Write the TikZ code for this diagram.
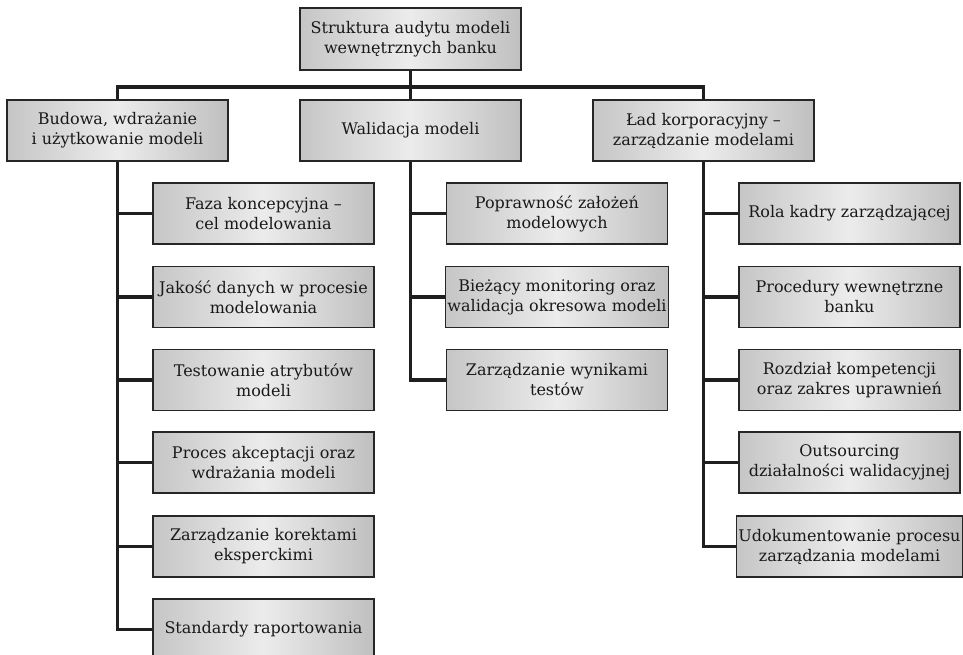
\documentclass[tikz,border=0pt]{standalone}
\usepackage{fontspec}
\setmainfont{DejaVu Serif}
\begin{document}
\begin{tikzpicture}[x=1pt,y=-1pt,
  box/.style={draw=black!85, line width=1.1pt, minimum width=221pt, minimum height=61pt,
    inner sep=2pt, align=center, left color=gray!45, right color=gray!50, middle color=gray!15,
    font=\fontsize{16}{20}\selectfont, text=black!90},
  conn/.style={line width=3.7pt, draw=black!88}]
\clip (0,0) rectangle (963,655);
\useasboundingbox (0,0) rectangle (963,655);

% top
\node[box, minimum height=62pt] (top) at (410.5,39) {Struktura audytu modeli\\wewnętrznych banku};
% level 2
\node[box] (L1) at (117.5,130.5) {Budowa, wdrażanie\\i użytkowanie modeli};
\node[box] (L2) at (410.5,130.5) {Walidacja modeli};
\node[box] (L3) at (703.5,130.5) {Ład korporacyjny –\\zarządzanie modelami};

% left column
\node[box] (a1) at (263.5,213.5) {Faza koncepcyjna –\\cel modelowania};
\node[box] (a2) at (263.5,297) {Jakość danych w procesie\\modelowania};
\node[box] (a3) at (263.5,380) {Testowanie atrybutów\\modeli};
\node[box] (a4) at (263.5,462.5) {Proces akceptacji oraz\\wdrażania modeli};
\node[box] (a5) at (263.5,546.5) {Zarządzanie korektami\\eksperckimi};
\node[box] (a6) at (263.5,629.5) {Standardy raportowania};

% middle column
\node[box] (b1) at (557,213.5) {Poprawność założeń\\modelowych};
\node[box] (b2) at (557,297) {Bieżący monitoring oraz\\walidacja okresowa modeli};
\node[box] (b3) at (557,380) {Zarządzanie wynikami\\testów};

% right column
\node[box] (c1) at (849.5,213.5) {Rola kadry zarządzającej};
\node[box] (c2) at (849.5,297) {Procedury wewnętrzne\\banku};
\node[box] (c3) at (849.5,380) {Rozdział kompetencji\\oraz zakres uprawnień};
\node[box] (c4) at (849.5,462.5) {Outsourcing\\działalności walidacyjnej};
\node[box] (c5) at (849.5,546.5) {Udokumentowanie procesu\\zarządzania modelami};

% connectors
\coordinate (bar) at (410.5,87);
\draw[conn] (top.south) -- (bar);
\draw[conn] (L1.north) |- (bar) -| (L3.north);
\draw[conn] (bar) -- (L2.north);

\draw[conn] (L1.south) |- (a6.west);
\foreach \n in {a1,a2,a3,a4,a5} \draw[conn] (L1.south |- \n.west) -- (\n.west);

\draw[conn] (L2.south) |- (b3.west);
\foreach \n in {b1,b2} \draw[conn] (L2.south |- \n.west) -- (\n.west);

\draw[conn] (L3.south) |- (c5.west);
\foreach \n in {c1,c2,c3,c4} \draw[conn] (L3.south |- \n.west) -- (\n.west);
\end{tikzpicture}
\end{document}
